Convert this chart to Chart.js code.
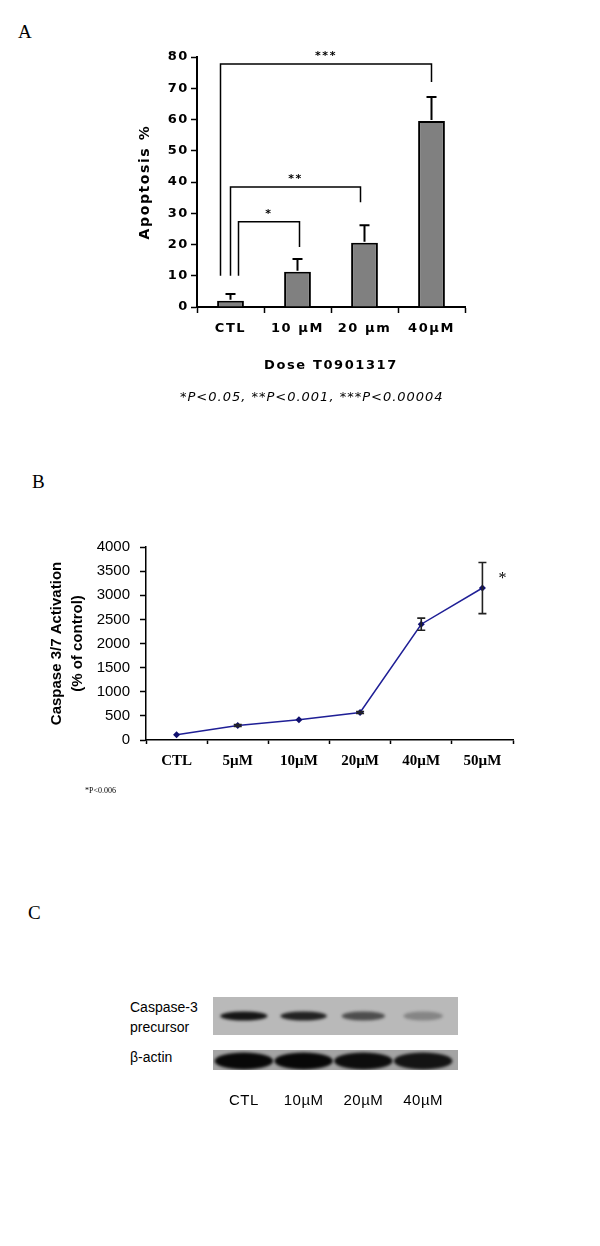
<!DOCTYPE html>
<html><head><meta charset="utf-8">
<script src="https://cdn.jsdelivr.net/npm/chart.js@4.4.0/dist/chart.umd.min.js"></script>
<style>
body{margin:0;background:#fff;width:600px;height:1246px;position:relative;overflow:hidden}
canvas{position:absolute;left:0}
.t{position:absolute;white-space:nowrap;color:#000;line-height:1}
</style></head><body>
<div class="t" style="left:18px;top:21px;font:19px 'Liberation Serif'">A</div>
<canvas id="ca" width="600" height="420" style="top:0"></canvas>
<div class="t" style="left:180px;top:389px;font:italic 13px 'DejaVu Sans';letter-spacing:1px">*P&lt;0.05, **P&lt;0.001, ***P&lt;0.00004</div>

<div class="t" style="left:32px;top:471px;font:19px 'Liberation Serif'">B</div>
<canvas id="cb" width="600" height="300" style="top:500px"></canvas>
<div class="t" style="left:85px;top:786px;font:8px 'Liberation Serif'">*P&lt;0.006</div>

<div class="t" style="left:28px;top:902px;font:19px 'Liberation Serif'">C</div>
<div class="t" style="left:130px;top:999px;font:14px 'Liberation Sans'">Caspase-3</div>
<div class="t" style="left:130px;top:1019px;font:14px 'Liberation Sans'">precursor</div>
<div class="t" style="left:130px;top:1049px;font:14px 'Liberation Sans'">β-actin</div>
<canvas id="cc" width="600" height="160" style="top:960px"></canvas>

<script>
// ---- Panel A data ----
const aLabels = ['CTL', '10 µM', '20 µm', '40µM'];
const aValues = [2, 11.3, 20.6, 59.5];
const aErrors = [2.2, 4.1, 5.6, 7.7];
const aBracketFrom = [0, 0, 0];
const aBracketTo = [3, 2, 1];
const aBracketLevel = [77.8, 38.4, 27.3];
const aBracketLeftEnd = [10, 10, 10];
const aBracketRightEnd = [72, 33.5, 19.2];
const aBracketMarks = ['***', '**', '*'];
const aTickStep = 10;
const aMax = 80;

// ---- Panel B data ----
const bLabels = ['CTL', '5µM', '10µM', '20µM', '40µM', '50µM'];
const bValues = [110, 300, 420, 570, 2400, 3150];
const bErrors = [0, 20, 0, 20, 125, 530];
const bTickStep = 500;
const bMax = 4000;
const bSignificant = [false, false, false, false, false, true];

// ---- Panel C data (relative band intensities) ----
const cLabels = ['CTL', '10µM', '20µM', '40µM'];
const cPrecursor = [0.95, 0.88, 0.62, 0.3];
const cActin = [1, 1, 0.97, 0.92];

Chart.defaults.animation = false;
Chart.defaults.color = '#000';

const spacing = (px) => ({
  id: 'spacing',
  beforeDraw(c) { c.ctx.letterSpacing = px + 'px'; },
  afterDraw(c) { c.ctx.letterSpacing = '0px'; }
});

// ---------- Panel A ----------
const aExtras = {
  id: 'aExtras',
  afterDatasetsDraw(chart) {
    const ctx = chart.ctx, y = chart.scales.y, meta = chart.getDatasetMeta(0);
    ctx.save();
    ctx.strokeStyle = '#000';
    ctx.lineWidth = 2;
    meta.data.forEach((bar, i) => {
      const base = y.getPixelForValue(aValues[i]);
      const top = y.getPixelForValue(aValues[i] + aErrors[i]);
      ctx.beginPath();
      ctx.moveTo(bar.x, base - 1); ctx.lineTo(bar.x, top);
      ctx.moveTo(bar.x - 5, top); ctx.lineTo(bar.x + 5, top);
      ctx.stroke();
    });
    const leftOff = [-10, 0, 8];
    const rightOff = [0, -4, 2];
    ctx.lineWidth = 1.5;
    ctx.font = 'bold 11px "DejaVu Sans"';
    ctx.textAlign = 'center';
    ctx.textBaseline = 'middle';
    ctx.fillStyle = '#000';
    for (let k = 0; k < aBracketFrom.length; k++) {
      const x1 = meta.data[aBracketFrom[k]].x + leftOff[k];
      const x2 = meta.data[aBracketTo[k]].x + rightOff[k];
      const yl = y.getPixelForValue(aBracketLevel[k]);
      ctx.beginPath();
      ctx.moveTo(x1, y.getPixelForValue(aBracketLeftEnd[k]));
      ctx.lineTo(x1, yl);
      ctx.lineTo(x2, yl);
      ctx.lineTo(x2, y.getPixelForValue(aBracketRightEnd[k]));
      ctx.stroke();
      ctx.fillText(aBracketMarks[k], (x1 + x2) / 2, yl - 8);
    }
    ctx.restore();
  }
};

new Chart(document.getElementById('ca'), {
  type: 'bar',
  data: { labels: aLabels, datasets: [{
    data: aValues, backgroundColor: '#808080', borderColor: '#000', borderWidth: 2,
    barPercentage: 0.4, categoryPercentage: 1
  }]},
  options: {
    responsive: false, devicePixelRatio: 1,
    layout: { padding: { left: 137, right: 135, top: 57, bottom: 43 } },
    plugins: { legend: { display: false }, tooltip: { enabled: false } },
    scales: {
      x: {
        grid: { display: true, drawOnChartArea: false, offset: true, color: '#000', tickLength: 6, tickWidth: 1.5 },
        border: { color: '#000', width: 2 },
        ticks: { color: '#000', font: { family: 'DejaVu Sans', weight: 'bold', size: 13 }, padding: 8 },
        title: { display: true, text: 'Dose T0901317', color: '#000', font: { family: 'DejaVu Sans', weight: 'bold', size: 13 }, padding: { top: 0, bottom: 4 } },
        afterFit(s) { s.height = 70; }
      },
      y: {
        min: 0, max: aMax,
        grid: { display: true, drawOnChartArea: false, color: '#000', tickLength: 6, tickWidth: 1.5 },
        border: { color: '#000', width: 2 },
        ticks: { stepSize: aTickStep, color: '#000', font: { family: 'DejaVu Sans', weight: 'bold', size: 13 }, padding: 2 },
        title: { display: true, text: 'Apoptosis %', color: '#000', font: { family: 'DejaVu Sans', weight: 'bold', size: 14 }, padding: { top: 0, bottom: 0 } },
        afterFit(s) { s.width = 60; }
      }
    }
  },
  plugins: [spacing(1.6), aExtras]
});

// ---------- Panel B ----------
const bExtras = {
  id: 'bExtras',
  afterDatasetsDraw(chart) {
    const ctx = chart.ctx, y = chart.scales.y, meta = chart.getDatasetMeta(0);
    ctx.save();
    ctx.strokeStyle = '#222';
    ctx.lineWidth = 1.6;
    meta.data.forEach((pt, i) => {
      if (!bErrors[i]) return;
      const t = y.getPixelForValue(bValues[i] + bErrors[i]);
      const b = y.getPixelForValue(bValues[i] - bErrors[i]);
      ctx.beginPath();
      ctx.moveTo(pt.x, t); ctx.lineTo(pt.x, b);
      ctx.moveTo(pt.x - 4, t); ctx.lineTo(pt.x + 4, t);
      ctx.moveTo(pt.x - 4, b); ctx.lineTo(pt.x + 4, b);
      ctx.stroke();
      if (bSignificant[i]) {
        ctx.fillStyle = '#000';
        ctx.font = '16px "Liberation Serif"';
        ctx.textAlign = 'center';
        ctx.textBaseline = 'middle';
        ctx.fillText('*', pt.x + 20, t + 16);
      }
    });
    ctx.restore();
  }
};

new Chart(document.getElementById('cb'), {
  type: 'line',
  data: { labels: bLabels, datasets: [{
    data: bValues, borderColor: '#1f1f96', backgroundColor: '#10106e', borderWidth: 1.5,
    pointStyle: 'rectRot', pointRadius: 3.5, pointBorderWidth: 0, tension: 0
  }]},
  options: {
    responsive: false, devicePixelRatio: 1,
    layout: { padding: { left: 46, right: 87, top: 47, bottom: 20 } },
    plugins: { legend: { display: false }, tooltip: { enabled: false } },
    scales: {
      x: {
        offset: true,
        grid: { display: true, drawOnChartArea: false, offset: true, color: '#000', tickLength: 4, tickWidth: 1.5 },
        border: { color: '#000', width: 1.5 },
        ticks: { color: '#000', font: { family: 'Liberation Serif', weight: 'bold', size: 15 }, padding: 8 },
        afterFit(s) { s.height = 40; }
      },
      y: {
        min: 0, max: bMax,
        grid: { display: true, drawOnChartArea: false, color: '#000', tickLength: 6, tickWidth: 1.5 },
        border: { color: '#000', width: 1.5 },
        ticks: { stepSize: bTickStep, color: '#000', font: { family: 'Liberation Sans', size: 15 }, padding: 10,
                 callback: (v) => String(v) },
        title: { display: true, text: ['Caspase 3/7 Activation', '(% of control)'], color: '#000', font: { family: 'Liberation Sans', weight: 'bold', size: 15, lineHeight: 1.4 }, padding: { top: 0, bottom: 0 } },
        afterFit(s) { s.width = 100; }
      }
    }
  },
  plugins: [bExtras]
});

// ---------- Panel C ----------
const blot = {
  id: 'blot',
  beforeDatasetsDraw(chart) {
    const ctx = chart.ctx, x = chart.scales.x, a = chart.chartArea;
    const laneW = x.width / cLabels.length;
    const r1t = a.top, r1b = a.top + 38, r2t = a.top + 53, r2b = a.bottom;
    ctx.save();
    ctx.fillStyle = '#b9b9b9';
    ctx.fillRect(a.left - 1, r1t, a.right - a.left + 6, r1b - r1t);
    ctx.fillStyle = '#a4a4a4';
    ctx.fillRect(a.left - 1, r2t, a.right - a.left + 6, r2b - r2t);
    // precursor bands
    ctx.filter = 'blur(1.8px)';
    cPrecursor.forEach((v, i) => {
      const cx = x.getPixelForValue(i);
      ctx.fillStyle = `rgba(12,12,12,${v})`;
      ctx.beginPath();
      ctx.ellipse(cx, r1t + 19, laneW * 0.4 * (0.75 + 0.25 * v), 4.6, 0, 0, Math.PI * 2);
      ctx.fill();
    });
    // actin bands
    ctx.save();
    ctx.beginPath();
    ctx.rect(a.left - 1, r2t, a.right - a.left + 6, r2b - r2t);
    ctx.clip();
    cActin.forEach((v, i) => {
      const cx = x.getPixelForValue(i);
      ctx.fillStyle = `rgba(8,8,8,${v})`;
      ctx.beginPath();
      ctx.ellipse(cx, (r2t + r2b) / 2 + 1, laneW * 0.49, 8.5, 0, 0, Math.PI * 2);
      ctx.fill();
    });
    ctx.restore();
    ctx.restore();
  }
};

new Chart(document.getElementById('cc'), {
  type: 'bar',
  data: { labels: cLabels, datasets: [
    { data: cPrecursor, backgroundColor: 'rgba(0,0,0,0)' },
    { data: cActin, backgroundColor: 'rgba(0,0,0,0)' }
  ]},
  options: {
    responsive: false, devicePixelRatio: 1,
    layout: { padding: { left: 214, right: 147, top: 37, bottom: 10 } },
    plugins: { legend: { display: false }, tooltip: { enabled: false } },
    scales: {
      x: {
        grid: { display: false, drawTicks: false },
        border: { display: false },
        ticks: { color: '#000', font: { family: 'Liberation Sans', size: 15 }, padding: 22 },
        afterFit(s) { s.height = 40; }
      },
      y: { display: false, min: 0, max: 1 }
    }
  },
  plugins: [spacing(0.5), blot]
});
</script>
</body></html>
